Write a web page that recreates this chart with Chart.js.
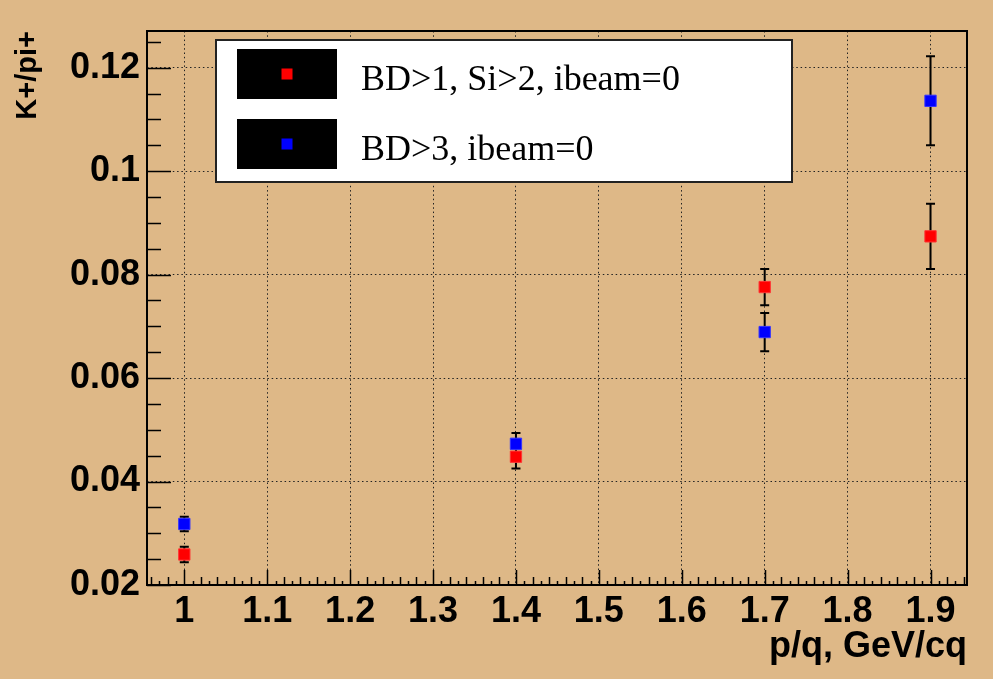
<!DOCTYPE html>
<html>
<head>
<meta charset="utf-8">
<script src="https://cdn.jsdelivr.net/npm/chart.js@4/dist/chart.umd.min.js"></script>
<style>
  html, body { margin: 0; padding: 0; background: #deb887; }
  #wrap { width: 993px; height: 679px; }
</style>
</head>
<body>
<div id="wrap"><canvas id="c" width="993" height="679"></canvas></div>
<script>
// momentum points
var pq = [1, 1.4, 1.7, 1.9];

// BD>1, Si>2
var redVals = [0.0259, 0.0448, 0.0776, 0.0874];
var redErrs = [0.0015, 0.0023, 0.0035, 0.0063];

// BD>3
var blueVals = [0.0318, 0.0473, 0.0689, 0.1136];
var blueErrs = [0.0014, 0.0021, 0.0037, 0.0086];

var xTicks = [1, 1.1, 1.2, 1.3, 1.4, 1.5, 1.6, 1.7, 1.8, 1.9];
var xTickLabels = ['1', '1.1', '1.2', '1.3', '1.4', '1.5', '1.6', '1.7', '1.8', '1.9'];
var yTicks = [0.02, 0.04, 0.06, 0.08, 0.1, 0.12];
var yTickLabels = ['0.02', '0.04', '0.06', '0.08', '0.1', '0.12'];

var seriesNames = ['BD>1, Si>2, ibeam=0', 'BD>3, ibeam=0'];

function toPoints(xs, ys) {
    return xs.map(function (x, i) { return { x: x, y: ys[i] }; });
}

// error bars, drawn under the markers
var errorBars = {
    id: 'errorBars',
    beforeDatasetsDraw: function (chart) {
        var ctx = chart.ctx, xs = chart.scales.x, ys = chart.scales.y;
        ctx.save();
        ctx.strokeStyle = '#000';
        ctx.lineWidth = 2;
        chart.data.datasets.forEach(function (ds) {
            ds.data.forEach(function (p, i) {
                var e = ds.errors[i];
                var px = xs.getPixelForValue(p.x);
                var y1 = ys.getPixelForValue(p.y + e);
                var y2 = ys.getPixelForValue(p.y - e);
                ctx.beginPath();
                ctx.moveTo(px, y1); ctx.lineTo(px, y2);
                ctx.moveTo(px - 4.5, y1); ctx.lineTo(px + 4.5, y1);
                ctx.moveTo(px - 4.5, y2); ctx.lineTo(px + 4.5, y2);
                ctx.stroke();
            });
        });
        ctx.restore();
    }
};

// ROOT style frame with inward ticks
var frame = {
    id: 'frame',
    afterDatasetsDraw: function (chart) {
        var ctx = chart.ctx, a = chart.chartArea;
        var xs = chart.scales.x, ys = chart.scales.y;
        ctx.save();
        ctx.strokeStyle = '#000';
        ctx.lineWidth = 1.5;
        ctx.beginPath();
        var v, i, px, py, len;
        // y ticks every 0.005
        for (i = 0; ; i++) {
            v = 0.02 + i * 0.005;
            if (v > ys.max + 1e-9) break;
            py = Math.round(ys.getPixelForValue(v)) + 0.5;
            len = (i % 4 === 0) ? 24 : 14;
            ctx.moveTo(a.left, py); ctx.lineTo(a.left + len, py);
        }
        // x ticks every 0.01
        for (i = -4; ; i++) {
            v = 1 + i * 0.01;
            if (v > xs.max + 1e-9) break;
            if (v < xs.min) continue;
            px = Math.round(xs.getPixelForValue(v)) + 0.5;
            var k = ((i % 10) + 10) % 10;
            len = k === 0 ? 15 : (k % 2 === 0 ? 8 : 4);
            ctx.moveTo(px, a.bottom); ctx.lineTo(px, a.bottom - len);
        }
        ctx.stroke();
        ctx.lineWidth = 2;
        ctx.strokeRect(a.left, a.top, a.right - a.left, a.bottom - a.top);
        ctx.restore();
    }
};

// legend box like the ROOT TLegend
var rootLegend = {
    id: 'rootLegend',
    afterDraw: function (chart) {
        var ctx = chart.ctx;
        ctx.save();
        ctx.fillStyle = '#fff';
        ctx.fillRect(216, 40, 576, 142);
        ctx.strokeStyle = '#222';
        ctx.lineWidth = 2;
        ctx.strokeRect(216, 40, 576, 142);
        ctx.font = '36px "Liberation Serif", "Times New Roman", serif';
        ctx.textBaseline = 'alphabetic';
        chart.data.datasets.forEach(function (ds, i) {
            var top = 49 + i * 70;
            ctx.fillStyle = '#000';
            ctx.fillRect(237, top, 100, 50);
            ctx.fillStyle = ds.backgroundColor;
            ctx.fillRect(281.5, top + 19.5, 11, 11);
            ctx.fillStyle = '#000';
            ctx.fillText(ds.label, 361, top + 41);
        });
        ctx.restore();
    }
};

var ctx = document.getElementById('c').getContext('2d');
var chart = new Chart(ctx, {
    type: 'scatter',
    data: {
        datasets: [{
            label: seriesNames[0],
            data: toPoints(pq, redVals),
            errors: redErrs,
            backgroundColor: '#ff0000',
            borderColor: '#ff3333',
            borderWidth: 1,
            pointStyle: 'rect',
            pointRadius: 8,
            pointHoverRadius: 8
        }, {
            label: seriesNames[1],
            data: toPoints(pq, blueVals),
            errors: blueErrs,
            backgroundColor: '#0000ff',
            borderColor: '#3333ff',
            borderWidth: 1,
            pointStyle: 'rect',
            pointRadius: 8,
            pointHoverRadius: 8
        }]
    },
    options: {
        responsive: false,
        animation: false,
        events: [],
        layout: { padding: { left: 0, right: 26, top: 31, bottom: 0 } },
        plugins: {
            legend: { display: false },
            tooltip: { enabled: false }
        },
        scales: {
            x: {
                type: 'linear',
                min: 0.955,
                max: 1.944,
                afterBuildTicks: function (s) { s.ticks = xTicks.map(function (v) { return { value: v }; }); },
                afterFit: function (s) { s.height = 94; },
                ticks: {
                    padding: 5,
                    color: '#000',
                    font: { family: '"Liberation Sans", Arial, sans-serif', size: 36, weight: 'bold' },
                    maxRotation: 0,
                    autoSkip: false,
                    callback: function (v, i) { return xTickLabels[i]; }
                },
                grid: { color: '#222', lineWidth: 1, drawTicks: false },
                border: { display: false, dash: [1.5, 2.8] },
                title: {
                    display: true,
                    text: 'p/q, GeV/cq',
                    align: 'end',
                    color: '#000',
                    padding: { top: 0, bottom: 14 },
                    font: { family: '"Liberation Sans", Arial, sans-serif', size: 36, weight: 'bold', lineHeight: 1 }
                }
            },
            y: {
                type: 'linear',
                min: 0.02,
                max: 0.1271,
                afterBuildTicks: function (s) { s.ticks = yTicks.map(function (v) { return { value: v }; }); },
                afterFit: function (s) { s.width = 147; },
                ticks: {
                    padding: 7,
                    color: '#000',
                    font: { family: '"Liberation Sans", Arial, sans-serif', size: 36, weight: 'bold' },
                    autoSkip: false,
                    callback: function (v, i) { return yTickLabels[i]; }
                },
                grid: { color: '#222', lineWidth: 1, drawTicks: false },
                border: { display: false, dash: [1.5, 2.8] },
                title: {
                    display: true,
                    text: 'K+/pi+',
                    align: 'end',
                    color: '#000',
                    padding: { top: 13, bottom: 0 },
                    font: { family: '"Liberation Sans", Arial, sans-serif', size: 29, weight: 'bold', lineHeight: 1 }
                }
            }
        }
    },
    plugins: [errorBars, frame, rootLegend]
});
</script>
</body>
</html>
